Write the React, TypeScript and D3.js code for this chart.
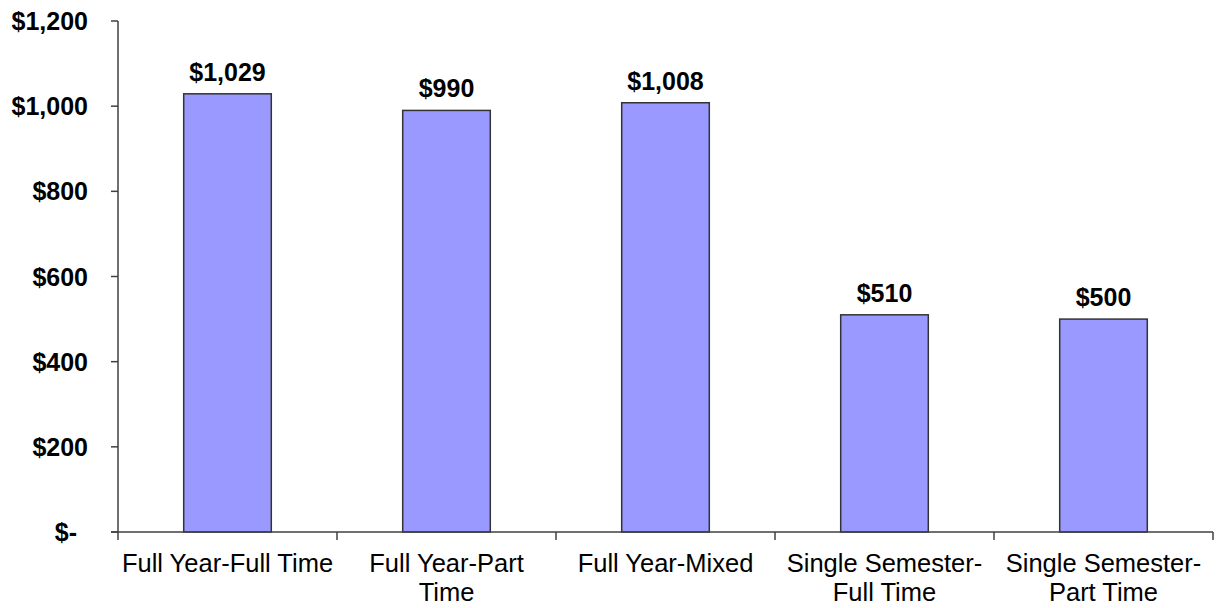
import React from "react";
import * as d3 from "d3";

const categories = [
  "Full Year-Full Time",
  "Full Year-Part Time",
  "Full Year-Mixed",
  "Single Semester-Full Time",
  "Single Semester-Part Time",
];
const categoryLines = [
  ["Full Year-Full Time"],
  ["Full Year-Part", "Time"],
  ["Full Year-Mixed"],
  ["Single Semester-", "Full Time"],
  ["Single Semester-", "Part Time"],
];
const values = [1029, 990, 1008, 510, 500];
const valueLabels = ["$1,029", "$990", "$1,008", "$510", "$500"];
const yTicks = [0, 200, 400, 600, 800, 1000, 1200];
const yTickLabels = ["$-", "$200", "$400", "$600", "$800", "$1,000", "$1,200"];

const W = 1219;
const H = 608;
const left = 118;
const right = 1213;
const top = 21;
const bottom = 532;
const font = "'Liberation Sans', Arial, Helvetica, sans-serif";
const axisColor = "#404040";

export default function App() {
  const x = d3.scaleBand<string>().domain(categories).range([left, right]).paddingInner(0).paddingOuter(0);
  const y = d3.scaleLinear().domain([0, 1200]).range([bottom, top]);
  const bw = x.bandwidth() * 0.4;
  const boundaries = [...categories.map((c) => x(c) as number), right];

  return (
    <svg width={W} height={H} style={{ position: "absolute", left: 0, top: 0, background: "#fff" }} fontFamily={font}>
      {/* bars */}
      {categories.map((c, i) => {
        const cx = (x(c) as number) + x.bandwidth() / 2;
        return (
          <g key={c}>
            <rect x={cx - bw / 2} y={y(values[i])} width={bw} height={bottom - y(values[i])} fill="#9999FF" stroke="#333" strokeWidth={1.5} />
            <text x={cx} y={y(values[i]) - 22} textAnchor="middle" dominantBaseline="central" fontWeight="bold" fontSize={25} fill="#000">
              {valueLabels[i]}
            </text>
          </g>
        );
      })}
      {/* y axis */}
      <line x1={left} x2={left} y1={top} y2={bottom} stroke={axisColor} strokeWidth={1.5} />
      {yTicks.map((t, i) => (
        <g key={t}>
          <line x1={left - 7} x2={left} y1={y(t)} y2={y(t)} stroke={axisColor} strokeWidth={1.5} />
          <text x={t === 0 ? 77 : 88} y={y(t)} textAnchor="end" dominantBaseline="central" fontWeight="bold" fontSize={25} fill="#000">
            {yTickLabels[i]}
          </text>
        </g>
      ))}
      {/* x axis */}
      <line x1={left - 7} x2={right} y1={bottom} y2={bottom} stroke={axisColor} strokeWidth={1.5} />
      {boundaries.map((b, i) => (
        <line key={i} x1={b} x2={b} y1={bottom} y2={bottom + 8} stroke={axisColor} strokeWidth={1.5} />
      ))}
      {categories.map((c, i) => {
        const cx = (x(c) as number) + x.bandwidth() / 2;
        return (
          <text key={c} textAnchor="middle" fontSize={25.5} fill="#000">
            {categoryLines[i].map((ln, j) => (
              <tspan key={j} x={cx} y={563 + j * 29} dominantBaseline="central">
                {ln}
              </tspan>
            ))}
          </text>
        );
      })}
    </svg>
  );
}
